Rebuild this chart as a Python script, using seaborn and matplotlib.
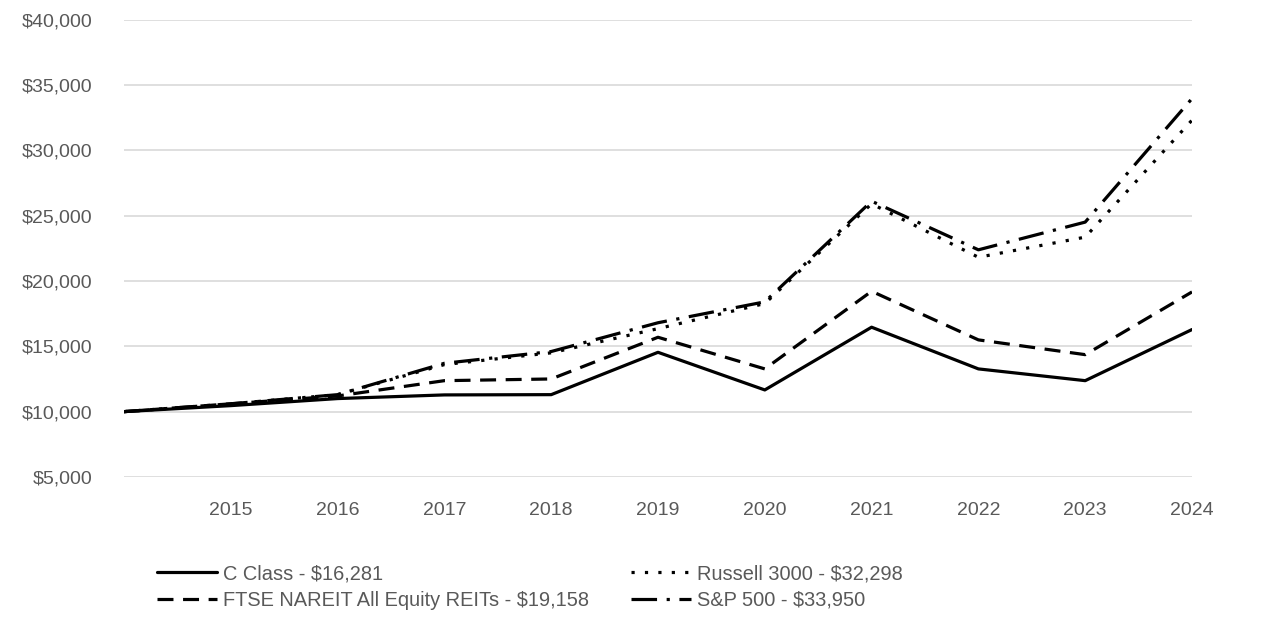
import matplotlib
matplotlib.use("Agg")
import matplotlib.pyplot as plt
import seaborn as sns
import pandas as pd
from matplotlib.ticker import FuncFormatter

years = [2014, 2015, 2016, 2017, 2018, 2019, 2020, 2021, 2022, 2023, 2024]
c_class = [10000, 10460, 11000, 11280, 11300, 14540, 11660, 16460, 13270, 12370, 16281]
ftse_nareit = [10000, 10600, 11200, 12370, 12500, 15690, 13270, 19210, 15490, 14360, 19158]
russell_3000 = [10000, 10600, 11300, 13600, 14500, 16350, 18270, 25900, 21810, 23350, 32298]
sp_500 = [10000, 10600, 11300, 13700, 14600, 16800, 18400, 26100, 22380, 24500, 33950]

labels = ["C Class - $16,281", "FTSE NAREIT All Equity REITs - $19,158",
          "Russell 3000 - $32,298", "S&P 500 - $33,950"]
yticks = [5000, 10000, 15000, 20000, 25000, 30000, 35000, 40000]
xticks = [2015, 2016, 2017, 2018, 2019, 2020, 2021, 2022, 2023, 2024]

sns.set_theme(style="white")
plt.rcParams['font.family'] = ['Liberation Sans', 'DejaVu Sans']

fig = plt.figure(figsize=(12.86, 6.32), dpi=100)
ax = fig.add_axes([124/1286, 1-477/632, (1192-124)/1286, (477-19.5)/632])

series = [c_class, ftse_nareit, russell_3000, sp_500]
styles = ['-', (0, (5, 3)), (0, (1, 3.2)), (0, (8, 3, 1, 3))]
for vals, lab, ls in zip(series, labels, styles):
    sns.lineplot(x=years, y=vals, ax=ax, color='black', linewidth=2.3,
                 linestyle=ls, label=lab)

ax.set_xlim(2014, 2024)
ax.set_ylim(5000, 40000)
ax.set_yticks(yticks)
ax.set_xticks(xticks)
ax.yaxis.set_major_formatter(FuncFormatter(lambda v, p: f"${v:,.0f}"))
ax.grid(axis='y', color='#d9d9d9', linewidth=1.2)
ax.set_axisbelow(True)
for s in ax.spines.values():
    s.set_visible(False)
ax.tick_params(axis='y', length=0, pad=23, labelsize=14, labelcolor='#595959')
ax.tick_params(axis='x', length=0, pad=18, labelsize=14, labelcolor='#595959')
ax.set_xlabel('')
ax.set_ylabel('')

handles, labs = ax.get_legend_handles_labels()
ax.get_legend().remove()
fig.legend(handles, labs, loc='upper left', bbox_to_anchor=(157/1286, 1-564/632),
           ncol=2, frameon=False, fontsize=14.4, labelcolor='#595959',
           handlelength=3.0, handletextpad=0.3, columnspacing=2.1,
           labelspacing=0.4, borderaxespad=0, borderpad=0)

fig.savefig("out.png", dpi=100)
